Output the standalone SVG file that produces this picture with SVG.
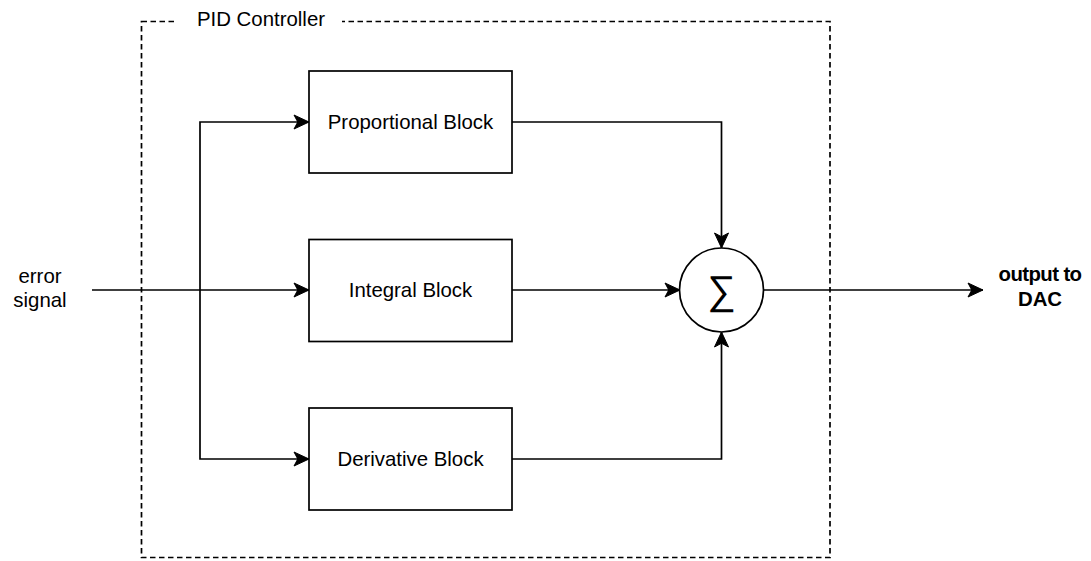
<svg xmlns="http://www.w3.org/2000/svg" width="1091" height="561" viewBox="0 0 1091 561">
  <style>
    .lbl { font-family: "Liberation Sans", Arial, sans-serif; font-size: 20.4px; fill: #000; text-anchor: middle; }
    .bold { font-weight: bold; }
    .box { fill: #fff; stroke: #000; stroke-width: 1.7; }
    .wire { fill: none; stroke: #000; stroke-width: 1.7; marker-end: url(#arrow); }
    .frame { fill: none; stroke: #000; stroke-width: 1.7; stroke-dasharray: 5.5 3.5; }
  </style>
  <defs>
    <marker id="arrow" markerUnits="userSpaceOnUse" viewBox="-16 -8 17 16" refX="0" refY="0" markerWidth="17" markerHeight="16" orient="auto" overflow="visible">
      <path d="M0,0 L-15,-7 L-11.25,0 L-15,7 Z" fill="#000" stroke="#000" stroke-width="1"/>
    </marker>
  </defs>

  <rect width="1091" height="561" fill="#fff"/>

  <!-- controller boundary -->
  <g id="pid-controller">
    <rect class="frame" x="141.5" y="21.5" width="688.5" height="536"/>
    <rect x="177" y="8" width="165" height="26" fill="#fff"/>
    <text class="lbl" x="261" y="26">PID Controller</text>
  </g>

  <!-- signal paths -->
  <g id="connectors">
    <path class="wire" d="M92,290 H309"/>
    <path class="wire" d="M200,290 V122 H309"/>
    <path class="wire" d="M200,290 V459 H309"/>
    <path class="wire" d="M512,122 H721.5 V248"/>
    <path class="wire" d="M512,290 H680"/>
    <path class="wire" d="M512,459 H721.5 V332"/>
    <path class="wire" d="M764,290 H983"/>
  </g>

  <g id="error-signal">
    <text class="lbl" x="40" y="283">error</text>
    <text class="lbl" x="40" y="307">signal</text>
  </g>

  <g id="proportional">
    <rect class="box" x="309" y="71" width="203" height="102"/>
    <text class="lbl" x="410.5" y="128.5">Proportional Block</text>
  </g>

  <g id="integral">
    <rect class="box" x="309" y="239.5" width="203" height="102"/>
    <text class="lbl" x="410.5" y="297">Integral Block</text>
  </g>

  <g id="derivative">
    <rect class="box" x="309" y="408" width="203" height="102"/>
    <text class="lbl" x="410.5" y="465.5">Derivative Block</text>
  </g>

  <g id="summer">
    <circle cx="721.5" cy="290" r="42" fill="#fff" stroke="#000" stroke-width="1.7"/>
    <text x="721.5" y="304" font-family="Liberation Sans, Arial, sans-serif" font-size="40" text-anchor="middle" fill="#000">∑</text>
  </g>

  <g id="output">
    <text class="lbl bold" x="1040" y="281" letter-spacing="-0.6">output to</text>
    <text class="lbl bold" x="1040" y="306">DAC</text>
  </g>
</svg>
